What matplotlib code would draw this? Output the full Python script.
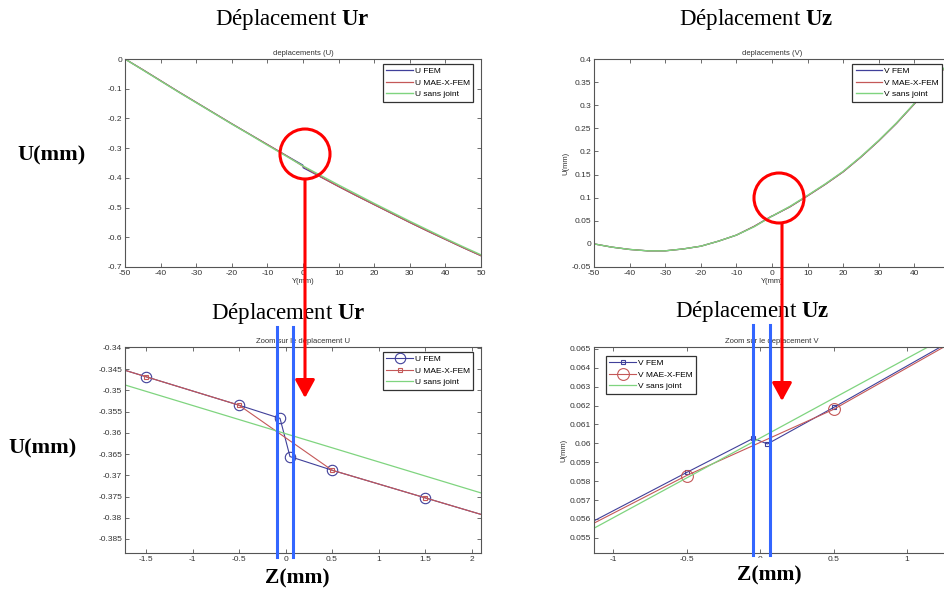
import matplotlib.pyplot as plt
from matplotlib.patches import Ellipse, FancyArrowPatch, ArrowStyle
from matplotlib.ticker import FuncFormatter

plt.rcParams['font.family'] = ['Liberation Sans', 'DejaVu Sans']
plt.rcParams['mathtext.fontset'] = 'custom'
plt.rcParams['mathtext.rm'] = 'Liberation Serif'
plt.rcParams['mathtext.bf'] = 'Liberation Serif:bold'

# ---- data ----
# overview, radial displacement U (mm) along Y (mm)
y_ref = [-50, -45, -40, -35, -30, -25, -20, -15, -10, -5, 0,
         5, 10, 15, 20, 25, 30, 35, 40, 45, 50]
u_ref = [0.0, -0.037, -0.074, -0.111, -0.147, -0.183, -0.219, -0.254, -0.290, -0.325, -0.360,
         -0.392, -0.424, -0.455, -0.486, -0.516, -0.546, -0.575, -0.604, -0.632, -0.659]
y_fem = [-50, -45, -40, -35, -30, -25, -20, -15, -10, -5, -0.05, 0.05,
         5, 10, 15, 20, 25, 30, 35, 40, 45, 50]
u_fem = [0.0, -0.036, -0.073, -0.110, -0.146, -0.182, -0.218, -0.253, -0.288, -0.323, -0.357, -0.366,
         -0.397, -0.429, -0.460, -0.490, -0.520, -0.550, -0.579, -0.607, -0.635, -0.662]
y_xfem = [-50, -45, -40, -35, -30, -25, -20, -15, -10, -5, 0,
          5, 10, 15, 20, 25, 30, 35, 40, 45, 50]
u_xfem = [0.0, -0.036, -0.073, -0.110, -0.146, -0.182, -0.218, -0.253, -0.288, -0.323, -0.361,
          -0.397, -0.429, -0.460, -0.490, -0.520, -0.550, -0.579, -0.607, -0.635, -0.662]

# overview, axial displacement V (mm)
v_ref = [0.000, -0.007, -0.012, -0.015, -0.015, -0.011, -0.005, 0.006, 0.019, 0.037, 0.060,
         0.081, 0.105, 0.130, 0.157, 0.189, 0.224, 0.262, 0.304, 0.349, 0.396]
v_fem = [0.000, -0.007, -0.012, -0.015, -0.015, -0.011, -0.005, 0.006, 0.019, 0.038, 0.0603, 0.0600,
         0.080, 0.104, 0.129, 0.156, 0.188, 0.223, 0.261, 0.303, 0.348, 0.395]
v_xfem = [0.000, -0.007, -0.012, -0.015, -0.015, -0.011, -0.005, 0.006, 0.019, 0.038, 0.0601,
          0.080, 0.104, 0.129, 0.156, 0.188, 0.223, 0.261, 0.303, 0.348, 0.395]

# zoom on the joint, U
zu_fem = [-2.5, -1.5, -0.5, -0.059, 0.048, 0.5, 1.5, 2.5]
zu_fem_val = [-0.3401, -0.3468, -0.3535, -0.3566, -0.3656, -0.3688, -0.3753, -0.3818]
zu_xfem = [-2.5, -1.5, -0.5, 0.5, 1.5, 2.5]
zu_xfem_val = [-0.3401, -0.3468, -0.3535, -0.3688, -0.3753, -0.3818]
zu_ref = [-2.5, 2.5]
zu_ref_val = [-0.3436, -0.3768]
zu_joint = [-0.095, 0.084]

# zoom on the joint, V
zv_fem = [-1.5, -0.5, -0.046, 0.05, 0.5, 1.5]
zv_fem_val = [0.0544, 0.05846, 0.06027, 0.05997, 0.0619, 0.0663]
zv_xfem = [-1.5, -0.5, 0.5, 1.5]
zv_xfem_val = [0.0543, 0.0583, 0.0618, 0.0662]
zv_ref = [-1.5, 1.5]
zv_ref_val = [0.05395, 0.06661]
zv_joint = [-0.046, 0.068]

c_fem = '#40409a'
c_xfem = '#c45858'
c_ref = '#7fd47f'
c_joint = '#3366ff'

W, H = 945, 589
fig = plt.figure(figsize=(W / 100, H / 100), dpi=100)


def fx(px):
    return px / W


def fy(py):
    return 1 - py / H


def add_ax(left, top, width, height):
    ax = fig.add_axes([left / W, 1 - (top + height) / H, width / W, height / H])
    for s in ax.spines.values():
        s.set_color('#555555')
        s.set_linewidth(0.8)
    ax.tick_params(direction='in', length=3, width=0.6, colors='#555555', labelsize=6,
                   labelcolor='#333333', top=True, right=True, pad=2)
    ax.xaxis.set_major_formatter(FuncFormatter(lambda v, p: '%g' % round(v, 4)))
    ax.yaxis.set_major_formatter(FuncFormatter(lambda v, p: '%g' % round(v, 4)))
    return ax


def legend(ax, loc, anchor):
    lg = ax.legend(loc=loc, bbox_to_anchor=anchor, borderaxespad=0, fontsize=6,
                   fancybox=False, framealpha=1, edgecolor='#333333', borderpad=0.4,
                   handlelength=3.2, handletextpad=0.2, labelspacing=0.45)
    lg.get_frame().set_linewidth(0.9)


# top left: U overview
ax1 = add_ax(125, 59, 356, 208)
ax1.plot(y_fem, u_fem, color=c_fem, lw=0.9, label='U FEM')
ax1.plot(y_xfem, u_xfem, color=c_xfem, lw=0.9, label='U MAE-X-FEM')
ax1.plot(y_ref, u_ref, color=c_ref, lw=1.0, label='U sans joint')
ax1.set_xlim(-50, 50)
ax1.set_ylim(-0.7, 0)
ax1.set_xticks(range(-50, 51, 10))
ax1.set_yticks([0, -0.1, -0.2, -0.3, -0.4, -0.5, -0.6, -0.7])
ax1.set_title('deplacements (U)', fontsize=5.5, pad=3, color='#333333')
ax1.set_xlabel('Y(mm)', fontsize=5.5, labelpad=1, color='#333333')
legend(ax1, 'upper right', (0.978, 0.976))

# top right: V overview (axes runs past the right edge of the picture)
ax2 = add_ax(594, 59, 356, 208)
ax2.plot(y_fem, v_fem, color=c_fem, lw=0.9, label='V FEM')
ax2.plot(y_xfem, v_xfem, color=c_xfem, lw=0.9, label='V MAE-X-FEM')
ax2.plot(y_ref, v_ref, color=c_ref, lw=1.0, label='V sans joint')
ax2.set_xlim(-50, 50)
ax2.set_ylim(-0.05, 0.4)
ax2.set_xticks(range(-50, 41, 10))
ax2.set_yticks([-0.05, 0, 0.05, 0.1, 0.15, 0.2, 0.25, 0.3, 0.35, 0.4])
ax2.set_title('deplacements (V)', fontsize=5.5, pad=3, color='#333333')
ax2.set_xlabel('Y(mm)', fontsize=5.5, labelpad=1, color='#333333')
ax2.set_ylabel('U(mm)', fontsize=5.5, labelpad=2, color='#333333')
legend(ax2, 'upper right', (0.978, 0.976))

# bottom left: zoom on U
ax3 = add_ax(125, 347, 356, 206)
ax3.plot(zu_fem, zu_fem_val, color=c_fem, lw=0.8, marker='o', ms=7.5, mfc='none',
         mew=0.8, label='U FEM')
ax3.plot(zu_xfem, zu_xfem_val, color=c_xfem, lw=0.8, marker='s', ms=3, mfc='none',
         mew=0.8, label='U MAE-X-FEM')
ax3.plot(zu_ref, zu_ref_val, color=c_ref, lw=0.9, label='U sans joint')
ax3.set_xlim(-1.726, 2.102)
ax3.set_ylim(-0.3883, -0.3398)
ax3.set_xticks([-1.5, -1, -0.5, 0, 0.5, 1, 1.5, 2])
ax3.set_yticks([-0.34 - 0.005 * i for i in range(10)])
ax3.set_title('Zoom sur le deplacement U', fontsize=5.5, pad=3, color='#333333')
legend(ax3, 'upper right', (0.978, 0.976))
for z in zu_joint:
    ax3.axvline(z, ymin=-0.02, ymax=1.097, color=c_joint, lw=2.2, clip_on=False, zorder=6)

# bottom right: zoom on V
ax4 = add_ax(594, 347, 356, 206)
ax4.plot(zv_fem, zv_fem_val, color=c_fem, lw=0.8, marker='s', ms=3.5, mfc='none',
         mew=0.8, label='V FEM')
ax4.plot(zv_xfem, zv_xfem_val, color=c_xfem, lw=0.8, marker='o', ms=8.5, mfc='none',
         mew=0.8, label='V MAE-X-FEM')
ax4.plot(zv_ref, zv_ref_val, color=c_ref, lw=0.9, label='V sans joint')
ax4.set_xlim(-1.13, 1.292)
ax4.set_ylim(0.0542, 0.0651)
ax4.set_xticks([-1, -0.5, 0, 0.5, 1])
ax4.set_yticks([0.055 + 0.001 * i for i in range(11)])
ax4.set_title('Zoom sur le deplacement V', fontsize=5.5, pad=3, color='#333333')
ax4.set_ylabel('U(mm)', fontsize=5.5, labelpad=2, color='#333333')
legend(ax4, 'upper left', (0.034, 0.956))
for z in zv_joint:
    ax4.axvline(z, ymin=-0.01, ymax=1.107, color=c_joint, lw=2.2, clip_on=False, zorder=6)

# annotations (serif)
serif = dict(family='Liberation Serif', color='black', ha='center', va='center')
fig.text(fx(292), fy(20), r'Déplacement $\mathbf{Ur}$', fontsize=16.5, **serif)
fig.text(fx(756), fy(20), r'Déplacement $\mathbf{Uz}$', fontsize=16.5, **serif)
fig.text(fx(288), fy(313), r'Déplacement $\mathbf{Ur}$', fontsize=16.5, **serif)
fig.text(fx(752), fy(311), r'Déplacement $\mathbf{Uz}$', fontsize=16.5, **serif)
fig.text(fx(52), fy(155), 'U(mm)', fontsize=16, weight='bold', **serif)
fig.text(fx(43), fy(448), 'U(mm)', fontsize=16, weight='bold', **serif)
fig.text(fx(297), fy(578), 'Z(mm)', fontsize=15.5, weight='bold',
         bbox=dict(facecolor='white', edgecolor='none', pad=5), **serif)
fig.text(fx(769), fy(575), 'Z(mm)', fontsize=15.5, weight='bold',
         bbox=dict(facecolor='white', edgecolor='none', pad=5), **serif)

# red circles and arrows
for cx, cy, ax_x, y0, y1 in [(305, 154, 305, 180, 398), (779, 198, 782, 224, 401)]:
    fig.add_artist(Ellipse((fx(cx), fy(cy)), 50 / W, 50 / H, transform=fig.transFigure,
                           fill=False, ec='#ff0000', lw=2.2, zorder=7))
    fig.add_artist(FancyArrowPatch((fx(ax_x), fy(y0)), (fx(ax_x), fy(y1)),
                                   transform=fig.transFigure,
                                   arrowstyle=ArrowStyle('-|>', head_length=1.1, head_width=0.6),
                                   mutation_scale=10, color='#ff0000', lw=2.2,
                                   shrinkA=0, shrinkB=0, zorder=7))

fig.savefig('out.png', dpi=100)
